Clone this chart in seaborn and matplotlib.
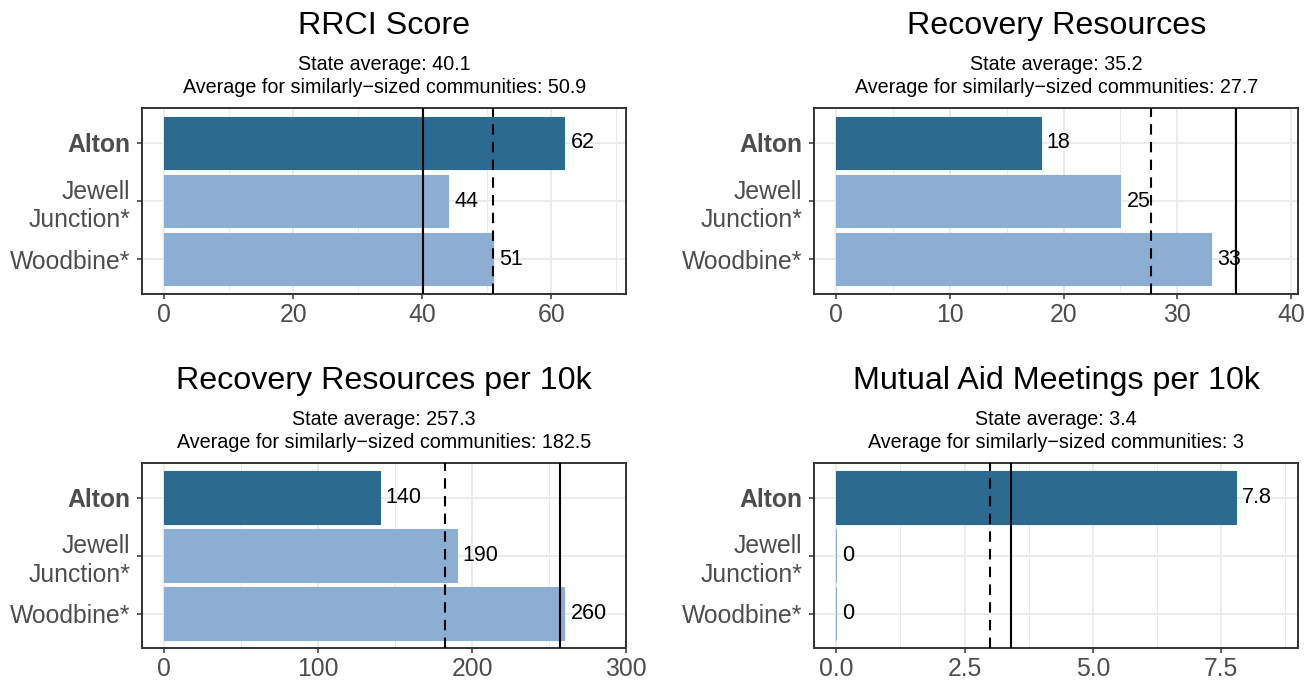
import matplotlib
matplotlib.use("Agg")
import matplotlib.pyplot as plt
from matplotlib.ticker import MultipleLocator
import seaborn as sns

# communities shown in every panel (top to bottom)
communities = ["Alton", "Jewell\nJunction*", "Woodbine*"]
bar_colors = ["#2d6a8f", "#8caed2", "#8caed2"]

# one entry per panel
titles = ["RRCI Score", "Recovery Resources",
          "Recovery Resources per 10k", "Mutual Aid Meetings per 10k"]
values = [
    [62, 44, 51],
    [18, 25, 33],
    [140, 190, 260],
    [7.8, 0, 0],
]
state_avg = [40.1, 35.2, 257.3, 3.4]
similar_avg = [50.9, 27.7, 182.5, 3]
major_steps = [20, 10, 100, 2.5]

sns.set_theme(style="white")
plt.rcParams["font.family"] = ["Liberation Sans", "DejaVu Sans"]

fig = plt.figure(figsize=(13.12, 6.83), dpi=100)
positions = [
    [0.1082, 0.5695, 0.3693, 0.2723],
    [0.6207, 0.5695, 0.3689, 0.2723],
    [0.1082, 0.0508, 0.3693, 0.2716],
    [0.6207, 0.0508, 0.3689, 0.2716],
]

for k in range(4):
    ax = fig.add_axes(positions[k])
    vals = values[k]
    sns.barplot(x=vals, y=communities, hue=communities, palette=bar_colors,
                saturation=1, width=0.9, legend=False, orient="h", ax=ax)
    for p in ax.patches:
        p.set_edgecolor(p.get_facecolor())
        p.set_linewidth(0.8)

    # reference lines
    ax.axvline(state_avg[k], color="black", lw=1.5, zorder=3)
    ax.axvline(similar_avg[k], color="black", lw=1.5, ls=(0, (5, 3.5)), zorder=3)

    # value labels
    for i, v in enumerate(vals):
        ax.annotate(f"{v:g}", xy=(v, i), xytext=(4.3, 0), textcoords="offset points",
                    ha="left", va="center", fontsize=15.5, color="black", zorder=4)

    upper = 1.1 * max(max(vals), state_avg[k], similar_avg[k])
    ax.set_xlim(-0.05 * upper, 1.05 * upper)
    ax.set_ylim(2.6, -0.6)
    ax.xaxis.set_major_locator(MultipleLocator(major_steps[k]))
    ax.xaxis.set_minor_locator(MultipleLocator(major_steps[k] / 2))

    ax.set_axisbelow(True)
    ax.grid(which="major", color="#ebebeb", lw=1.4)
    ax.grid(which="minor", axis="x", color="#ebebeb", lw=0.7)
    for s in ax.spines.values():
        s.set_color("#333333")
        s.set_linewidth(1.4)
    ax.tick_params(axis="both", which="major", length=3.6, width=1.1, color="#333333",
                   labelcolor="#4d4d4d", labelsize=17.8, bottom=True, left=True)
    ax.tick_params(axis="x", which="major", pad=3)
    ax.tick_params(axis="y", which="major", pad=5)
    ax.tick_params(axis="x", which="minor", length=0)
    ax.set_xlabel("")
    ax.set_ylabel("")
    for t in ax.get_yticklabels():
        t.set_linespacing(1.25)
    ax.get_yticklabels()[0].set_fontweight("bold")

    ax.annotate(titles[k], xy=(0.5, 1), xycoords="axes fraction", xytext=(0, 53),
                textcoords="offset points", ha="center", va="baseline",
                fontsize=23.2, color="black")
    ax.annotate(f"State average: {state_avg[k]:g}", xy=(0.5, 1), xycoords="axes fraction",
                xytext=(0, 27.4), textcoords="offset points", ha="center",
                va="baseline", fontsize=14.2, color="black")
    ax.annotate(f"Average for similarly\u2212sized communities: {similar_avg[k]:g}",
                xy=(0.5, 1), xycoords="axes fraction", xytext=(0, 10.8),
                textcoords="offset points", ha="center", va="baseline",
                fontsize=14.2, color="black")

fig.savefig("out.png", dpi=100)
